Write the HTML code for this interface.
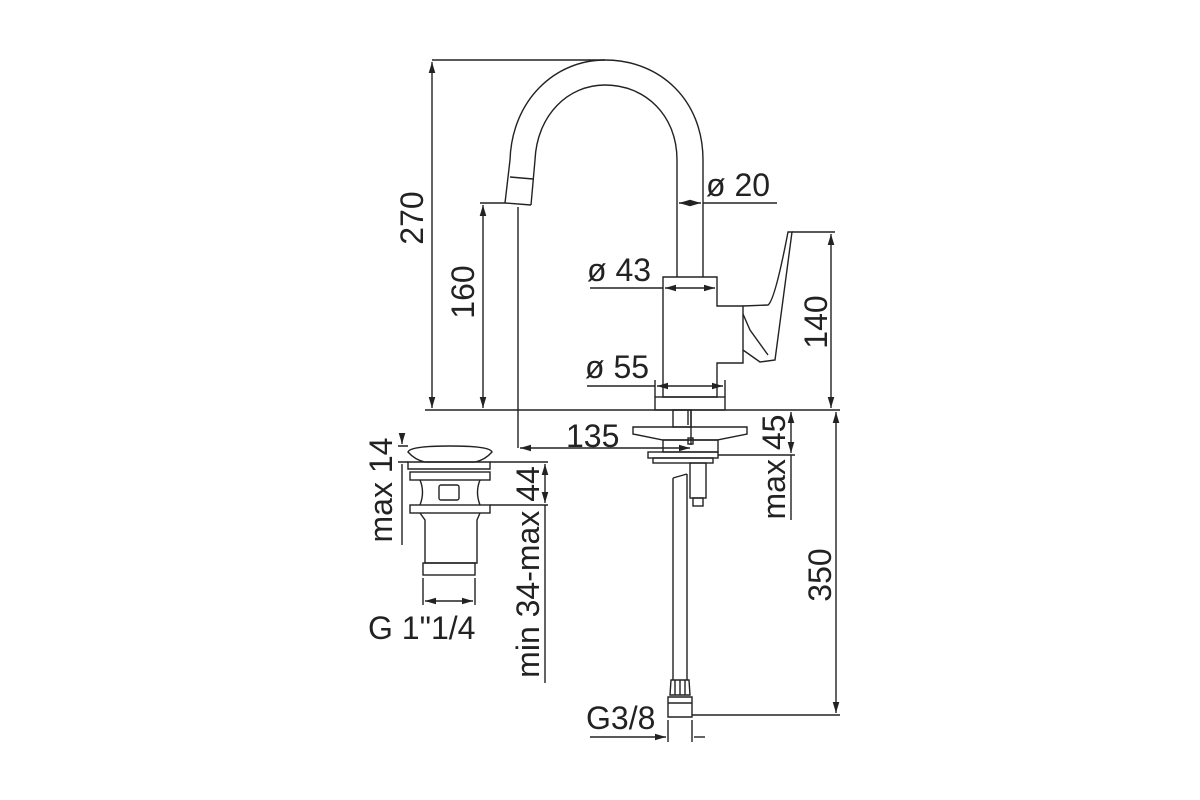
<!DOCTYPE html>
<html><head><style>
html,body{margin:0;padding:0;background:#fff;}
svg{display:block;}
text{font-family:"Liberation Sans",sans-serif;font-size:32px;fill:#222;}
</style></head><body>
<svg width="1200" height="800" viewBox="0 0 1200 800" xmlns="http://www.w3.org/2000/svg">
<defs>
<marker id="a" viewBox="0 0 10 10" refX="10" refY="5" markerWidth="8" markerHeight="8" orient="auto-start-reverse"><path d="M0,2 L10,5 L0,8 z" fill="#222"/></marker>
</defs>
<g fill="none" stroke="#222" stroke-width="1.4">
<path d="M505,203 L510,160 C512,100 555,60 605,60 C660,60 703,100 703,160 L703,277"/>
<path d="M531,205 L535,160 C537,115 568,85 605,85 C645,85 677,115 677,160 L677,277"/>
<path d="M510,177 L533,179"/>
<path d="M505,203 L531,205"/>
<path d="M663,277 L717,277 L717,306 L743,306 L743,363 L717,363 L717,397 L663,397 Z"/>
<path d="M743,306 L768,305 Q775,300 788,232 L792,232 L775,360 L760,362 L743,350"/>
<path d="M743,314 L750,330 L768,355"/>
<rect x="655" y="397" width="70" height="13"/>
<rect x="673" y="410" width="18" height="17"/>
<path d="M633,427 L747,427 L747,434 L717,440 L663,440 L633,434 Z"/>
<rect x="663" y="440" width="55" height="12"/>
<rect x="648" y="452" width="70" height="6"/>
<rect x="653" y="458" width="60" height="5"/>
<path d="M688,410 L688,425 M691,410 L691,445"/>
<rect x="688" y="438" width="5" height="6"/>
<rect x="690" y="463" width="16" height="35"/>
<rect x="693" y="498" width="10" height="8"/>
<path d="M673,478 L687,474 M673,478 L673,680 M687,474 L687,680"/>
<path d="M671,680 L689,680 L690,695 L670,695 Z"/>
<path d="M675,680 L675,695 M680,680 L680,695 M685,680 L685,695"/>
<path d="M668,697 L692,697 L692,717 L668,717 Z M668,703 L692,703"/>
<path d="M408,452 Q410,446 450,446 Q490,446 492,452 Q485,460 475,462 L425,462 Q415,460 408,452 Z"/>
<path d="M408,462 L490,462 L490,469 L408,469 Z"/>
<rect x="410" y="472" width="80" height="8"/>
<path d="M420,480 Q425,492 420,505 M480,480 Q475,492 480,505"/>
<rect x="439" y="485" width="20" height="15" rx="2"/>
<rect x="410" y="505" width="80" height="8"/>
<path d="M420,513 L425,520 L425,563 L477,563 L477,520 L480,513"/>
<rect x="423" y="563" width="52" height="12"/>
<path d="M432,60 L605,60"/>
<path d="M432,62 L432,408" marker-start="url(#a)" marker-end="url(#a)"/>
<path d="M425,410 L840,410"/>
<path d="M480,203 L505,203"/>
<path d="M483,205 L483,408" marker-start="url(#a)" marker-end="url(#a)"/>
<path d="M518,207 L518,448"/>
<path d="M520,448 L690,448" marker-start="url(#a)" marker-end="url(#a)"/>
<path d="M679,203 L701,203" marker-start="url(#a)" marker-end="url(#a)"/>
<path d="M703,203 L777,203"/>
<path d="M590,288 L663,288"/>
<path d="M665,288 L715,288" marker-start="url(#a)" marker-end="url(#a)"/>
<path d="M587,386 L655,386"/>
<path d="M657,386 L723,386" marker-start="url(#a)" marker-end="url(#a)"/>
<path d="M655,380 L655,397 M725,380 L725,397"/>
<path d="M792,232 L835,232"/>
<path d="M831,234 L831,408" marker-start="url(#a)" marker-end="url(#a)"/>
<path d="M718,455 L795,455"/>
<path d="M791,412 L791,453" marker-start="url(#a)" marker-end="url(#a)"/>
<path d="M791,455 L791,520"/>
<path d="M692,715 L840,715"/>
<path d="M836,412 L836,713" marker-start="url(#a)" marker-end="url(#a)"/>
<path d="M668,720 L668,742 M692,720 L692,742"/>
<path d="M590,737 L666,737" marker-end="url(#a)"/>
<path d="M694,737 L705,737"/>
<path d="M398,446 L408,446 M398,462 L408,462"/>
<path d="M402,435 L402,444" marker-end="url(#a)"/>
<path d="M402,464 L402,545"/>
<path d="M490,462 L548,462 M490,505 L548,505"/>
<path d="M545,464 L545,503" marker-start="url(#a)" marker-end="url(#a)"/>
<path d="M545,505 L545,683"/>
<path d="M423,578 L423,605 M475,578 L475,605"/>
<path d="M425,601 L473,601" marker-start="url(#a)" marker-end="url(#a)"/>
</g>
<text x="706" y="196">ø 20</text>
<text x="587" y="281">ø 43</text>
<text x="585" y="378">ø 55</text>
<text x="566" y="447">135</text>
<text x="586" y="729">G3/8</text>
<text x="368" y="639">G 1"1/4</text>
<text transform="translate(423,218) rotate(-90)" text-anchor="middle">270</text>
<text transform="translate(474,292) rotate(-90)" text-anchor="middle">160</text>
<text transform="translate(827,322) rotate(-90)" text-anchor="middle">140</text>
<text transform="translate(785,467) rotate(-90)" text-anchor="middle">max 45</text>
<text transform="translate(831,575) rotate(-90)" text-anchor="middle">350</text>
<text transform="translate(392,490) rotate(-90)" text-anchor="middle">max 14</text>
<text transform="translate(539,572) rotate(-90)" text-anchor="middle">min 34-max 44</text>
</svg>
</body></html>
